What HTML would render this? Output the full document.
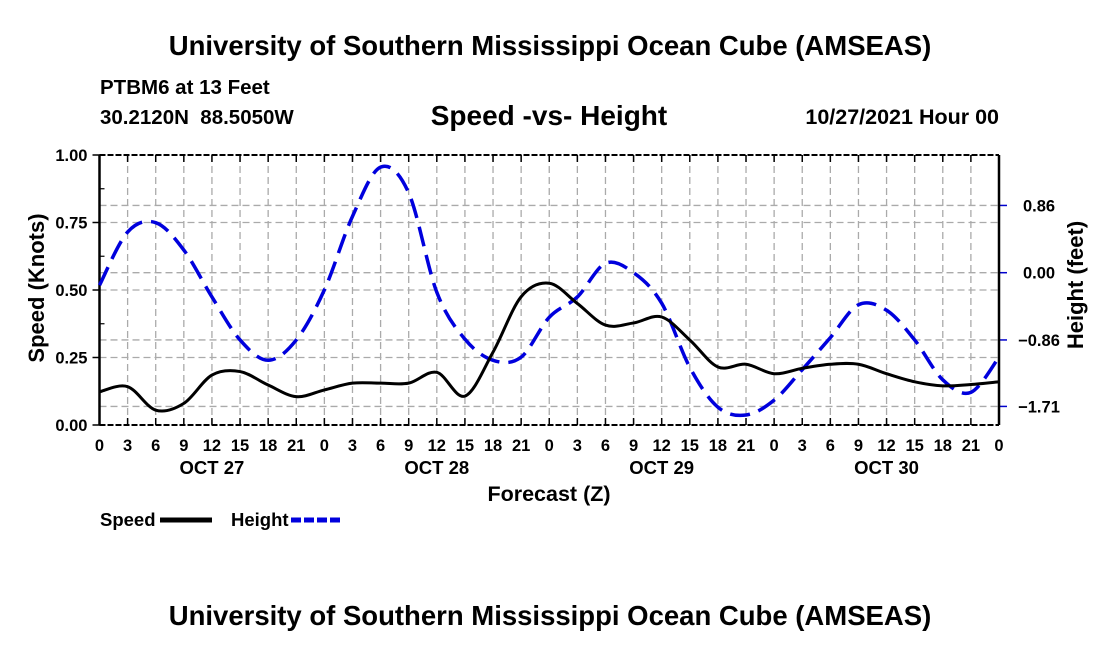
<!DOCTYPE html>
<html><head><meta charset="utf-8"><style>
body{margin:0;background:#fff}
svg text{font-family:"Liberation Sans",Arial,sans-serif;font-weight:bold;fill:#000}
</style></head><body>
<svg id="c" width="1100" height="650" viewBox="0 0 1100 650" xmlns="http://www.w3.org/2000/svg">
<text x="550" y="55" font-size="27.5" text-anchor="middle">University of Southern Mississippi Ocean Cube (AMSEAS)</text>
<text x="100" y="94" font-size="20.5">PTBM6 at 13 Feet</text>
<text x="100" y="124" font-size="20.5">30.2120N&#160;&#160;88.5050W</text>
<text x="549" y="125" font-size="28" text-anchor="middle">Speed -vs- Height</text>
<text x="999" y="124" font-size="21.5" text-anchor="end">10/27/2021 Hour 00</text>
<g id="grid"></g><g id="axes"></g><g id="series"></g>
<text transform="translate(44,288) rotate(-90)" font-size="22" text-anchor="middle">Speed (Knots)</text>
<text transform="translate(1083,285) rotate(-90)" font-size="22" text-anchor="middle">Height (feet)</text>
<text x="549" y="501" font-size="21.5" text-anchor="middle">Forecast (Z)</text>
<g>
<text x="100" y="526" font-size="18.5">Speed</text>
<line x1="160" y1="520" x2="212" y2="520" stroke="#000" stroke-width="5"/>
<text x="231" y="526" font-size="18.5">Height</text>
<line x1="291" y1="520" x2="342" y2="520" stroke="#0000dd" stroke-width="5" stroke-dasharray="10,3"/>
</g>
<text x="550" y="625" font-size="27.5" text-anchor="middle">University of Southern Mississippi Ocean Cube (AMSEAS)</text>
</svg>
<script>
const hours=[0,3,6,9,12,15,18,21,24,27,30,33,36,39,42,45,48,51,54,57,60,63,66,69,72,75,78,81,84,87,90,93,96];
const speed=[0.123,0.142,0.055,0.08,0.185,0.198,0.148,0.105,0.13,0.155,0.155,0.155,0.195,0.107,0.27,0.475,0.525,0.45,0.37,0.378,0.40,0.315,0.215,0.225,0.19,0.21,0.225,0.225,0.19,0.16,0.145,0.15,0.16];
const height=[-0.16,0.52,0.64,0.29,-0.31,-0.86,-1.12,-0.86,-0.22,0.72,1.35,1.02,-0.25,-0.85,-1.12,-1.08,-0.57,-0.31,0.12,0.0,-0.39,-1.21,-1.72,-1.82,-1.63,-1.24,-0.83,-0.41,-0.48,-0.86,-1.37,-1.53,-1.08];
const speedTicks=[0,0.25,0.5,0.75,1.0];
const heightTicks=[0.86,0.00,-0.86,-1.71];
const heightTickLabels=["0.86","0.00","\u22120.86","\u22121.71"];
const dayLabels=["OCT 27","OCT 28","OCT 29","OCT 30"];
const L=99.5,R=999,T=155,B=425;
const xS=h=>L+(R-L)*h/96;
const yS=v=>B-(B-T)*v;
const yH=h=>272.7-h*78.2;
const NS="http://www.w3.org/2000/svg";
function mk(tag,attrs,parent){const e=document.createElementNS(NS,tag);for(const k in attrs)e.setAttribute(k,attrs[k]);parent.appendChild(e);return e;}
const grid=document.getElementById('grid'),axes=document.getElementById('axes'),series=document.getElementById('series');
for(let h=0;h<=96;h+=3){
 const x=xS(h);
 if(h>0&&h<96){const g=mk('line',{x1:x,y1:T,x2:x,y2:B,stroke:'#aaa','stroke-width':1.3,'stroke-dasharray':'7,4'},grid);
 
 }
 mk('line',{x1:x,y1:B,x2:x,y2:B-7,stroke:'#000','stroke-width':1.5},axes);
 mk('line',{x1:x,y1:T,x2:x,y2:T+7,stroke:'#000','stroke-width':1.5},axes);
 const t=mk('text',{x:x,y:451,'font-size':16.5,'text-anchor':'middle'},axes);
 t.textContent=String(h%24);
 
 
}
dayLabels.forEach((d,i)=>{const t=mk('text',{x:xS(12+24*i),y:474,'font-size':18.5,'text-anchor':'middle'},axes);t.textContent=d;
 
 });
speedTicks.forEach(v=>{const y=yS(v);
 if(v>0&&v<1){const g=mk('line',{x1:L,y1:y,x2:R,y2:y,stroke:'#aaa','stroke-width':1.3,'stroke-dasharray':'7,4'},grid);
 
 }
 mk('line',{x1:L-7,y1:y,x2:L,y2:y,stroke:'#000','stroke-width':1.5},axes);
 const t=mk('text',{x:L-12,y:y+6,'font-size':16.5,'text-anchor':'end'},axes);t.textContent=v.toFixed(2);
 
 });
for(let v=0.125;v<1;v+=0.25){mk('line',{x1:L,y1:yS(v),x2:L+5,y2:yS(v),stroke:'#000','stroke-width':1.2},axes);}
heightTicks.forEach((h,i)=>{const y=yH(h);
 const g=mk('line',{x1:L,y1:y,x2:R,y2:y,stroke:'#aaa','stroke-width':1.3,'stroke-dasharray':'7,4'},grid);
 
 
 mk('line',{x1:R,y1:y,x2:R+8,y2:y,stroke:'#0000cc','stroke-width':1.5},axes);
 const t=mk('text',{x:1039,y:y+6,'font-size':16.5,'text-anchor':'middle'},axes);t.textContent=heightTickLabels[i];
 
 });
mk('line',{x1:L,y1:T,x2:L,y2:B,stroke:'#000','stroke-width':2.5},axes);
mk('line',{x1:R,y1:T,x2:R,y2:B,stroke:'#000','stroke-width':2.5},axes);
mk('line',{x1:L,y1:B,x2:R,y2:B,stroke:'#000','stroke-width':2,'stroke-dasharray':'6,2'},axes);
mk('line',{x1:L,y1:T,x2:R,y2:T,stroke:'#000','stroke-width':2,'stroke-dasharray':'6,2'},axes);
function path(ys){
 const p=hours.map((h,i)=>[xS(h),ys(i)]);
 let d='M'+p[0][0]+','+p[0][1];
 for(let i=0;i<p.length-1;i++){
  const p0=p[i-1]||p[i],p1=p[i],p2=p[i+1],p3=p[i+2]||p2;
  const c1=[p1[0]+(p2[0]-p0[0])/6,p1[1]+(p2[1]-p0[1])/6];
  const c2=[p2[0]-(p3[0]-p1[0])/6,p2[1]-(p3[1]-p1[1])/6];
  d+=` C${c1[0]},${c1[1]} ${c2[0]},${c2[1]} ${p2[0]},${p2[1]}`;
 }
 return d;
}
const hp=mk('path',{d:path(i=>yH(height[i])),fill:'none',stroke:'#0000dd','stroke-width':3.5,'stroke-dasharray':'20,9'},series);


const sp=mk('path',{d:path(i=>yS(speed[i])),fill:'none',stroke:'#000','stroke-width':3},series);


</script>
</body></html>
